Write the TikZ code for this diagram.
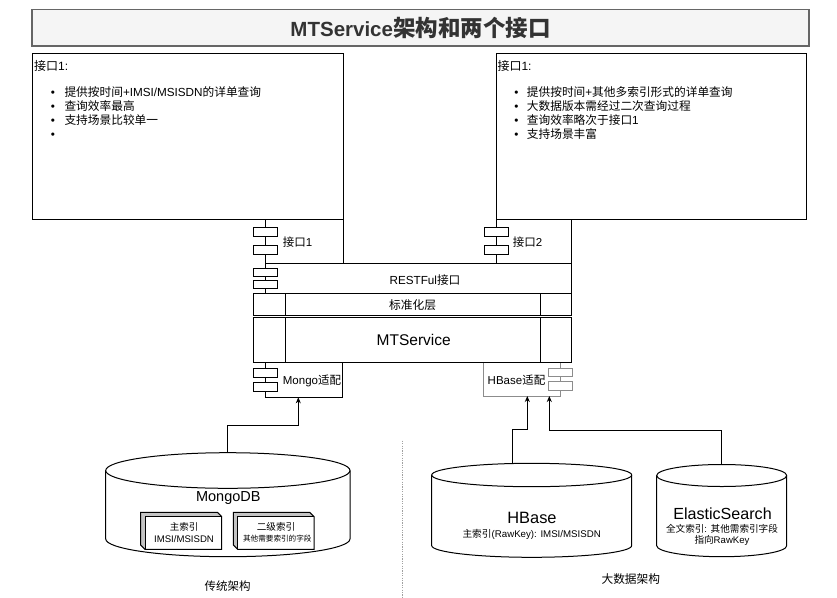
\documentclass[tikz,border=0pt]{standalone}
\usepackage{fontspec}
\setmainfont{Liberation Sans}
\newfontfamily\zhfont{Noto Sans CJK SC}
\newcommand\zh[1]{{\zhfont #1}}
\newcommand\fs[1]{\fontsize{#1}{#1}\selectfont}
\usetikzlibrary{arrows.meta,calc}
\definecolor{titlefill}{HTML}{F5F5F5}
\definecolor{titleline}{HTML}{666666}
\definecolor{titletext}{HTML}{333333}
\definecolor{adgray}{HTML}{8C8C8C}
\definecolor{sepgray}{HTML}{A0A0A0}
\definecolor{cubeshade}{HTML}{C4C4C4}

% cylinder: cx, top, bottom, rx, ry
\newcommand\cyl[5]{%
  \pgfmathsetmacro\cyXl{#1-#4}\pgfmathsetmacro\cyXr{#1+#4}%
  \pgfmathsetmacro\cyYt{#2+#5}\pgfmathsetmacro\cyYb{#3-#5}%
  \draw[line width=1pt, fill=white] (\cyXl,\cyYt) -- (\cyXl,\cyYb)
    arc[start angle=180,end angle=360,x radius=#4pt,y radius=#5pt]
    -- (\cyXr,\cyYt)
    arc[start angle=0,end angle=180,x radius=#4pt,y radius=#5pt] -- cycle;
  \draw[line width=1pt] (\cyXl,\cyYt) arc[start angle=180,end angle=360,x radius=#4pt,y radius=#5pt];
}
% 3d box: x1,y1,x2,y2,depth
\newcommand\cube[5]{%
  \pgfmathsetmacro\cbA{#1+#5}\pgfmathsetmacro\cbB{#2+#5}%
  \pgfmathsetmacro\cbC{#3-#5}\pgfmathsetmacro\cbD{#4-#5}%
  \fill[white] (\cbA,\cbB) rectangle (#3,#4);
  \fill[cubeshade] (#1,#2) -- (\cbC,#2) -- (#3,\cbB) -- (\cbA,\cbB) -- cycle;
  \fill[cubeshade] (#1,#2) -- (\cbA,\cbB) -- (\cbA,#4) -- (#1,\cbD) -- cycle;
  \draw[line width=1pt] (#1,#2) -- (\cbC,#2) -- (#3,\cbB) -- (#3,#4) -- (\cbA,#4) -- (#1,\cbD) -- cycle;
  \draw[line width=0.6pt] (\cbA,#4) -- (\cbA,\cbB) -- (#3,\cbB);
}
% component side rectangles: node, side (west/east), height, extra style
\newcommand\comprects[4]{%
  \draw[srect,#4] ($(#1.north #2)!0.3!(#1.south #2)$) ++(-12,{-#3/2}) rectangle ++(24,#3);
  \draw[srect,#4] ($(#1.north #2)!0.7!(#1.south #2)$) ++(-12,{-#3/2}) rectangle ++(24,#3);
}

\begin{document}
\begin{tikzpicture}[x=1pt,y=-1pt,
  bx/.style={draw, line width=1pt, inner sep=0, outer sep=0, fill=white},
  ghost/.style={inner sep=0, outer sep=0},
  lbl/.style={inner sep=0, anchor=base},
  lblw/.style={inner sep=0, anchor=base west},
  bul/.style={inner sep=0, font=\fs{11.7}},
  srect/.style={draw, fill=white, line width=1pt},
  arr/.style={draw, line width=1pt, -{Stealth[length=6pt,width=5pt]}},
]
\useasboundingbox[fill=white] (0,0) rectangle (837,597);

% title
\node[draw=titleline, fill=titlefill, line width=1.3pt, inner sep=0, outer sep=0,
      minimum width=777, minimum height=36.7, text=titletext] (title) at (420.5,27.65)
      {\fs{20.5}\bfseries MTService\zh{\fs{22.5}架构和两个接口}};

% interface description boxes
\node[bx, minimum width=311, minimum height=166] (box1) at (187.5,136) {};
\node[bx, minimum width=310, minimum height=166] (box2) at (651,136) {};

\node[lblw, font=\fs{12}] (h1) at (34,70.3) {\zh{接口}1:};
\node[bul] (b11) at (53,93.3) {•};
\node[bul] (b12) at (53,107.3) {•};
\node[bul] (b13) at (53,121.3) {•};
\node[bul] (b14) at (53,135.3) {•};
\node[lblw, font=\fs{11.7}] (l11) at (64.3,96.1) {\zh{提供按时间}+IMSI/MSISDN\zh{的详单查询}};
\node[lblw, font=\fs{11.7}] (l12) at (64.3,110.1) {\zh{查询效率最高}};
\node[lblw, font=\fs{11.7}] (l13) at (64.3,124.1) {\zh{支持场景比较单一}};

\node[lblw, font=\fs{12}] (h2) at (497.3,70.3) {\zh{接口}1:};
\node[bul] (b21) at (516.5,93.3) {•};
\node[bul] (b22) at (516.5,107.3) {•};
\node[bul] (b23) at (516.5,121.3) {•};
\node[bul] (b24) at (516.5,135.3) {•};
\node[lblw, font=\fs{11.7}] (l21) at (526.7,96.1) {\zh{提供按时间}+\zh{其他多索引形式的详单查询}};
\node[lblw, font=\fs{11.7}] (l22) at (526.7,110.1) {\zh{大数据版本需经过二次查询过程}};
\node[lblw, font=\fs{11.7}] (l23) at (526.7,124.1) {\zh{查询效率略次于接口}1};
\node[lblw, font=\fs{11.7}] (l24) at (526.7,138.1) {\zh{支持场景丰富}};

% MTService component stack
\node[bx, minimum width=77.3, minimum height=44] (if1) at (304.35,241) {};
\node[bx, minimum width=75.7, minimum height=44] (if2) at (533.85,241) {};
\node[bx, minimum width=306, minimum height=30.3] (rest) at (418.7,278.15) {};
\node[bx, minimum width=318.4, minimum height=21.7] (std) at (412.5,304.15) {};
\node[bx, draw=adgray, minimum width=76.7, minimum height=33.7] (hbasead) at (521.65,379.15) {};
\node[bx, minimum width=76.6, minimum height=35] (mongoad) at (304,379.8) {};
\node[bx, minimum width=318.4, minimum height=45] (mts) at (412.5,339.8) {};

\draw[line width=1pt] ($(std.north west)+(31.7,0)$) -- ($(std.south west)+(31.7,0)$);
\draw[line width=1pt] ($(std.north east)+(-31,0)$) -- ($(std.south east)+(-31,0)$);
\draw[line width=1pt] ($(mts.north west)+(31.7,0)$) -- ($(mts.south west)+(31.7,0)$);
\draw[line width=1pt] ($(mts.north east)+(-31,0)$) -- ($(mts.south east)+(-31,0)$);

\comprects{if1}{west}{9}{}
\comprects{if2}{west}{9}{}
\comprects{rest}{west}{8}{}
\comprects{mongoad}{west}{8.5}{}
\comprects{hbasead}{east}{8.5}{draw=adgray}

\node[lblw, font=\fs{11.5}] (tif1) at (282.7,246.4) {\zh{接口}1};
\node[lblw, font=\fs{11.5}] (tif2) at (512.7,246.4) {\zh{接口}2};
\node[lbl, font=\fs{11.7}] (trest) at (425,284.4) {RESTFul\zh{接口}};
\node[lbl, font=\fs{11.75}] (tstd) at (412.5,309.5) {\zh{标准化层}};
\node[lbl, font=\fs{15.5}] (tmts) at (413.7,345.6) {MTService};
\node[lblw, font=\fs{11.5}] (tmongo) at (282.7,384.4) {Mongo\zh{适配}};
\node[lbl, font=\fs{11.5}] (thb) at (516.5,384.4) {HBase\zh{适配}};

% MongoDB
\cyl{227.85}{452.7}{556.7}{122.15}{17.8}
\node[ghost, minimum width=244.3, minimum height=104] (mongodb) at (227.85,504.7) {};
\node[lbl, font=\fs{14.5}] (tmdb) at (228.3,501.9) {MongoDB};
\cube{140.7}{512.3}{221.7}{549.3}{4.3}
\node[lbl, font=\fs{9.5}] (tpk1) at (184,530.3) {\zh{主索引}};
\node[lbl, font=\fs{9.6}] (tpk2) at (184,542.8) {IMSI/MSISDN};
\cube{233.3}{512.3}{314}{549.3}{4.3}
\node[lbl, font=\fs{9.6}] (tsk1) at (276,530.3) {\zh{二级索引}};
\node[lbl, font=\fs{7.6}] (tsk2) at (277.3,541.6) {\zh{其他需要索引的字段}};

% HBase
\cyl{531.7}{463.3}{557.3}{100}{11.7}
\node[ghost, minimum width=200, minimum height=94] (hbase) at (531.7,510.3) {};
\node[lbl, font=\fs{16.4}] (thbase) at (532,523.2) {HBase};
\node[lbl, font=\fs{9.7}] (thbase2) at (531.7,537.6) {\zh{主索引}(RawKey): IMSI/MSISDN};

% ElasticSearch
\cyl{721.7}{464.5}{556.7}{65}{11}
\node[ghost, minimum width=130, minimum height=92.2] (es) at (721.7,510.6) {};
\node[lbl, font=\fs{16.1}] (tes) at (722.5,519.1) {ElasticSearch};
\node[lbl, font=\fs{9.6}] (tes2) at (722,532) {\zh{全文索引}: \zh{其他需索引字段}};
\node[lbl, font=\fs{9.6}] (tes3) at (722,543) {\zh{指向}RawKey};

% captions
\node[lbl, font=\fs{11.5}] (cap1) at (227.5,590) {\zh{传统架构}};
\node[lbl, font=\fs{11.7}] (cap2) at (630.8,583.7) {\zh{大数据架构}};

% separator
\coordinate (septop) at (402.7,440.7);
\coordinate (sepbot) at (402.7,597);
\draw[sepgray, line width=1pt, dash pattern=on 1.2pt off 1.2pt] (septop) -- (sepbot);

% connectors
\draw[arr] (mongodb.north) -- ++(0,-27.7) -| ([xshift=-5.7pt]mongoad.south);
\draw[arr] ([xshift=-19.4pt]hbase.north) -- ++(0,-34) -| ([xshift=5.65pt]hbasead.south);
\draw[arr] (es.north) -- ++(0,-33.8) -| ([xshift=27.65pt]hbasead.south);
\end{tikzpicture}
\end{document}
